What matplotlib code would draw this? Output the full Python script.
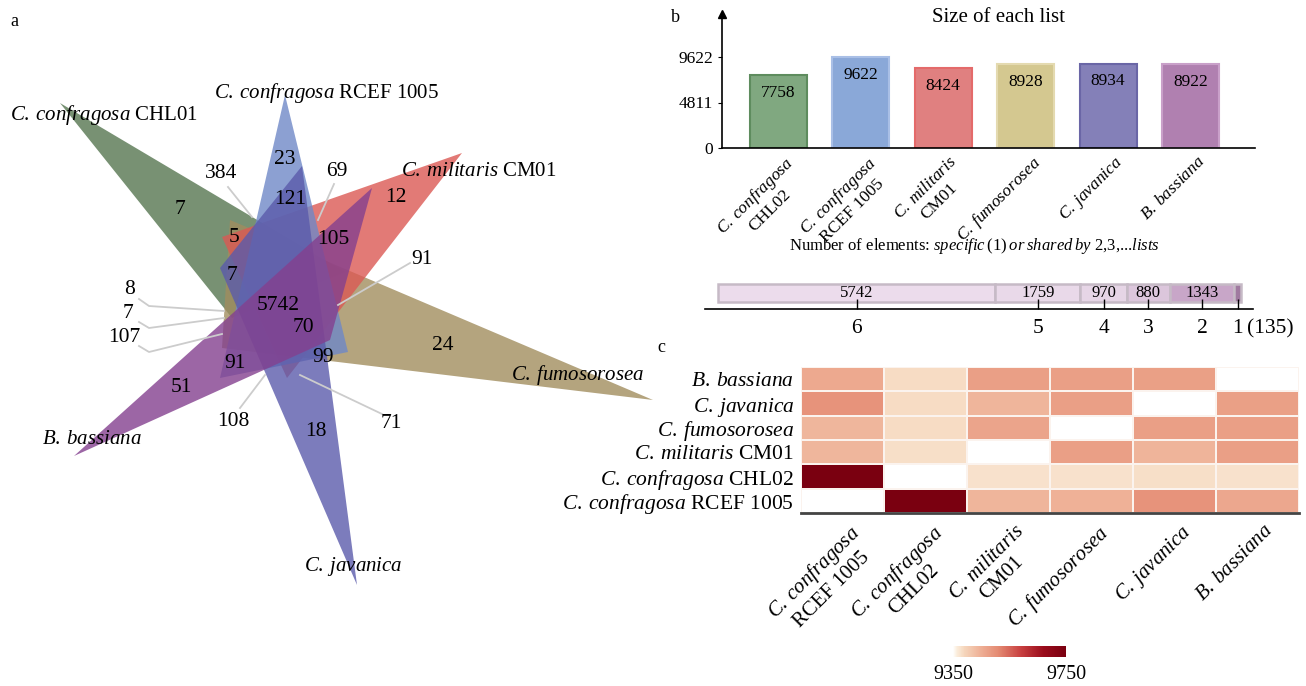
import numpy as np
import matplotlib
matplotlib.use('Agg')
import matplotlib.pyplot as plt
from matplotlib.patches import Polygon
from matplotlib.colors import LinearSegmentedColormap
import matplotlib.transforms as mtrans

plt.rcParams['font.family'] = ['Liberation Serif', 'DejaVu Serif']
plt.rcParams['mathtext.fontset'] = 'custom'
plt.rcParams['mathtext.rm'] = 'Liberation Serif'
plt.rcParams['mathtext.it'] = 'Liberation Serif:italic'

W, H = 1306, 686


def it(s):
    # italic species name in mathtext, with a normal-width space
    return r'$\mathit{' + s.replace(' ', r'\:') + '}$'


# ---- data ----
# panel a: six-set venn, counts of the labelled regions
venn_counts = ['7', '23', '384', '69', '121', '12', '5', '105', '91', '7', '5742',
               '8', '7', '107', '70', '24', '99', '91', '51', '108', '18', '71']

# panel b: size of each list
list_labels = [it('C. confragosa') + '\nCHL02',
               it('C. confragosa') + '\nRCEF 1005',
               it('C. militaris') + '\nCM01',
               it('C. fumosorosea'),
               it('C. javanica'),
               it('B. bassiana')]
list_sizes = [7758, 9622, 8424, 8928, 8934, 8922]
list_colors = ['#80a880', '#8aa8d8', '#e08080', '#d4c890', '#8480b8', '#b080b0']
list_edges = ['#5e8c5e', '#a9bfe6', '#e46a6a', '#e4dab0', '#6a66a6', '#c9a0c9']

# shared-by-n bar
share_levels = ['6', '5', '4', '3', '2', '1']
share_counts = [5742, 1759, 970, 880, 1343, 135]
share_colors = ['#ecdcec', '#e9d9e9', '#e6d5e6', '#dcc6dc', '#c8a6c8', '#a07aa0']

# panel c: heatmap
heat_rows = [it('B. bassiana'), it('C. javanica'), it('C. fumosorosea'),
             it('C. militaris') + ' CM01', it('C. confragosa') + ' CHL02',
             it('C. confragosa') + ' RCEF 1005']
heat_cols = [it('C. confragosa') + '\nRCEF 1005',
             it('C. confragosa') + '\nCHL02',
             it('C. militaris') + '\nCM01',
             it('C. fumosorosea'),
             it('C. javanica'),
             it('B. bassiana')]
nan = np.nan
heat_values = np.array([
    [9458, 9384, 9476, 9476, 9474, nan],
    [9494, 9384, 9440, 9476, nan, 9474],
    [9438, 9384, 9466, nan, 9476, 9476],
    [9438, 9380, nan, 9476, 9442, 9476],
    [9750, nan, 9378, 9378, 9380, 9378],
    [nan, 9750, 9440, 9446, 9494, 9462],
])
heat_min, heat_max = 9350, 9750

# ---- figure ----
fig = plt.figure(figsize=(W / 100, H / 100), dpi=100)


def px_axes(x0, y0, x1, y1):
    return fig.add_axes([x0 / W, 1 - y1 / H, (x1 - x0) / W, (y1 - y0) / H])


# panel a drawn in a pixel-coordinate axes
ax_a = px_axes(0, 0, W, H)
ax_a.set_xlim(0, W)
ax_a.set_ylim(H, 0)
ax_a.axis('off')

triangles = [
    ([(60, 103), (345, 272), (232, 318)], '#567650'),   # CHL01
    ([(653, 400), (230, 220), (222, 348)], '#a18d5e'),  # fumosorosea
    ([(462, 153), (222, 237), (287, 378)], '#db5954'),  # CM01
    ([(285, 95), (220, 378), (348, 352)], '#6f88c7'),   # RCEF 1005
    ([(357, 585), (220, 268), (302, 166)], '#5b5bab'),  # javanica
    ([(74, 456), (372, 188), (330, 340)], '#84408f'),   # bassiana
]
for verts, col in triangles:
    ax_a.add_patch(Polygon(verts, closed=True, facecolor=col, edgecolor='none', alpha=0.8))

leaders = [
    [(228, 187), (252, 217)],
    [(334, 184), (318, 220)],
    [(410, 263), (338, 305)],
    [(139, 299), (149, 306), (224, 311)],
    [(139, 322), (149, 328), (224, 318)],
    [(139, 346), (149, 352), (222, 334)],
    [(240, 408), (265, 375)],
    [(382, 414), (300, 375)],
]
for pts in leaders:
    xs, ys = zip(*pts)
    ax_a.plot(xs, ys, color='#cccccc', lw=1.3, zorder=1)

count_pos = [(180, 210), (285, 160), (221, 173), (337, 171), (290, 200), (396, 197),
             (234, 238), (333, 239), (422, 259), (232, 276), (278, 306),
             (130, 289), (128, 314), (124, 338), (303, 327), (443, 346), (323, 357),
             (235, 364), (181, 388), (233, 421), (316, 431), (391, 423)]
for s, (x, y) in zip(venn_counts, count_pos):
    ax_a.text(x, y, s, ha='center', va='center', fontsize=15.5, zorder=5)

set_labels = [
    (10, 115, it('C. confragosa') + ' CHL01'),
    (214, 93, it('C. confragosa') + ' RCEF 1005'),
    (401, 172, it('C. militaris') + ' CM01'),
    (511, 375, it('C. fumosorosea')),
    (42, 440, it('B. bassiana')),
    (304, 566, it('C. javanica')),
]
for x, y, s in set_labels:
    ax_a.text(x, y, s, ha='left', va='center', fontsize=15, zorder=5)

ax_a.text(14, 22, 'a', fontsize=13, ha='center', va='center')
ax_a.text(675, 18, 'b', fontsize=13, ha='center', va='center')
ax_a.text(661, 347, 'c', fontsize=13, ha='center', va='center')
ax_a.text(998, 18, 'Size of each list', fontsize=15, ha='center', va='center')
ax_a.text(974, 246, r'Number of elements: $\mathit{specific\:(1)\:or\:shared\:by}$ 2,3,...$\mathit{lists}$',
          fontsize=12, ha='center', va='center')

# panel b: bars
ax_b = px_axes(722, 14, 1255, 148)
ax_b.patch.set_visible(False)
xb = np.arange(len(list_sizes))
ax_b.bar(xb, list_sizes, width=0.69, color=list_colors, edgecolor=list_edges, linewidth=1.5)
for x, v in zip(xb, list_sizes):
    ax_b.text(x, v - 1900, str(v), ha='center', va='center', fontsize=12.5)
ax_b.set_xlim(-0.68, 5.78)
ax_b.set_ylim(0, 9622 * 134 / 91)
ax_b.set_yticks([0, 4811, 9622])
ax_b.tick_params(axis='y', labelsize=12.5, length=3)
ax_b.set_xticks(xb)
ax_b.set_xticklabels(list_labels, rotation=45, ha='right', va='top',
                     rotation_mode='anchor', fontsize=12.5, ma='center')
ax_b.tick_params(axis='x', length=0, pad=4)
shift_b = mtrans.ScaledTranslation(6 / 100, 0, fig.dpi_scale_trans)
for lab in ax_b.get_xticklabels():
    lab.set_transform(lab.get_transform() + shift_b)
for sp in ['top', 'right']:
    ax_b.spines[sp].set_visible(False)
ax_b.spines['left'].set_linewidth(1.2)
ax_b.spines['bottom'].set_linewidth(1.2)
ax_b.plot(0, 1, marker='^', color='k', ms=6, transform=ax_b.transAxes, clip_on=False)

# shared-by-n stacked bar
ax_s = px_axes(705, 270, 1253, 309)
ax_s.patch.set_visible(False)
total = sum(share_counts)
px_unit = 523 / total
left = 0
centers = []
for c, col, lev in zip(share_counts, share_colors, share_levels):
    ax_s.barh(0.41, c, left=left, height=0.46, color=col, edgecolor='#c6bac6', linewidth=1.8)
    centers.append(left + c / 2)
    if lev != '1':
        ax_s.text(left + c / 2, 0.42, f'{c}', ha='center', va='center', fontsize=12)
    left += c
ax_s.set_xlim(-13 / px_unit, 535 / px_unit)
ax_s.set_ylim(0, 1)
ax_s.set_xticks(centers)
ax_s.set_xticklabels(share_levels, fontsize=15.5)
ax_s.tick_params(axis='x', direction='in', length=7, width=1, pad=7)
ax_s.set_yticks([])
for sp in ['top', 'right', 'left']:
    ax_s.spines[sp].set_visible(False)
ax_s.spines['bottom'].set_linewidth(1.2)
ax_s.text(centers[-1] + 9 / px_unit, -0.5, f'({share_counts[-1]})', fontsize=15.5,
          ha='left', va='center', transform=ax_s.transData)

# panel c: heatmap
cmap = LinearSegmentedColormap.from_list('heat', [
    (0.0, '#ffffff'), (0.03, '#fbeedd'), (0.1, '#f5d6bc'), (0.25, '#eeae94'),
    (0.4, '#e48a72'), (0.6, '#c84040'), (0.8, '#9a0c1c'), (1.0, '#7a0010')])
ax_c = px_axes(801, 367, 1299, 513)
ax_c.patch.set_visible(False)
mesh = ax_c.pcolormesh(np.ma.masked_invalid(heat_values), cmap=cmap, vmin=heat_min,
                       vmax=heat_max, edgecolors='#fbf3ee', linewidth=1.2)
ax_c.set_ylim(6, 0)
ax_c.set_xlim(0, 6)
ax_c.set_yticks(np.arange(6) + 0.5)
ax_c.set_yticklabels(heat_rows, fontsize=15.5)
ax_c.set_xticks(np.arange(6) + 0.5)
ax_c.set_xticklabels(heat_cols, rotation=45, ha='right', va='top',
                     rotation_mode='anchor', fontsize=15, ma='center')
ax_c.tick_params(length=0)
ax_c.tick_params(axis='y', pad=5)
ax_c.tick_params(axis='x', pad=6)
shift_c = mtrans.ScaledTranslation(6 / 100, 0, fig.dpi_scale_trans)
for lab in ax_c.get_xticklabels():
    lab.set_transform(lab.get_transform() + shift_c)
for sp in ['top', 'right', 'left']:
    ax_c.spines[sp].set_visible(False)
ax_c.spines['bottom'].set_linewidth(2)
ax_c.spines['bottom'].set_color('#444444')

cax = px_axes(953, 646, 1066, 657)
cb = fig.colorbar(mesh, cax=cax, orientation='horizontal', ticks=[heat_min, heat_max])
cb.outline.set_visible(False)
cax.tick_params(length=0, labelsize=14.5, pad=6)

fig.savefig('out.png', dpi=100)
